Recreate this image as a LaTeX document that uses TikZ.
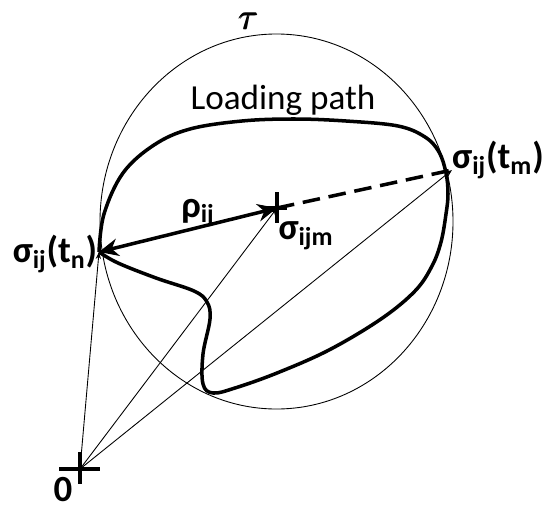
\documentclass[tikz,border=0pt]{standalone}
\usepackage{amsmath,amssymb}
\usepackage{fontspec}
\setmainfont{Carlito}
\usetikzlibrary{arrows.meta}

\tikzset{
    lbl/.style={font=\fontsize{21}{23}\selectfont\bfseries, inner sep=0pt},
    thin/.style={line width=0.5pt, -{Stealth[length=4pt,width=3pt]}},
    bold/.style={line width=2pt},
    crossbar/.style={line width=2.2pt},
}

\begin{document}
\begin{tikzpicture}[x=0.2mm, y=-0.2mm]
    \useasboundingbox (0,0) rectangle (542,510);
    % points
    \coordinate (O) at (80,469);
    \coordinate (tn) at (99,252);
    \coordinate (tm) at (452,170);
    \coordinate (m) at (277,208);
    % yield surface
    \draw[line width=0.5pt] (276.5,221.5) ellipse [x radius=3.53cm, y radius=3.75cm];
    \node[font=\huge, inner sep=0pt] (tau) at (249,21) {\(\pmb{\tau}\)};
    % loading path
    \draw[bold, line join=round] plot[smooth, tension=0.6] coordinates {
        (99,252) (104,214) (123,173) (154,145) (190,129) (242,121) (294,119)
        (346,121) (398,126) (425,137) (439,152) (446,173) (448,194) (446,214)
        (441,242) (432,266) (415,291) (381,319) (329,350) (277,373) (235,388)
        (213,393) (203,384) (203,354) (210,319) (207,302) (194,291) (156,278)
        (118,263) (99,252)};
    \node[font=\fontsize{20}{22}\selectfont] (path) at (283,100) {Loading path};
    % vectors from the origin
    \draw[thin] (O) -- (tn);
    \draw[thin] (O) -- (m);
    \draw[thin] (O) -- (tm);
    \draw[bold, {Stealth[length=11pt,width=10pt]}-{Stealth[length=11pt,width=10pt]}] (tn) -- (m);
    \draw[bold, dash pattern=on 10pt off 5pt] (m) -- (tm);
    % crosses
    \draw[crossbar] (O) ++(-21,0) -- ++(41,0);
    \draw[crossbar] (O) ++(0,-17) -- ++(0,32);
    \draw[crossbar] (m) ++(0,-16) -- ++(0,31);
    \draw[crossbar] (m) ++(-14,0) -- ++(24,0);
    % labels
    \node[lbl] (zero) at (63,490) {0};
    \node[lbl] (rho) at (198,213) {ρ\textsubscript{ij}};
    \node[lbl] (sm) at (306,236) {σ\textsubscript{ijm}};
    \node[lbl] (stn) at (55,254) {σ\textsubscript{ij}(t\textsubscript{n})};
    \node[lbl] (stm) at (498,160) {σ\textsubscript{ij}(t\textsubscript{m})};
\end{tikzpicture}
\end{document}
